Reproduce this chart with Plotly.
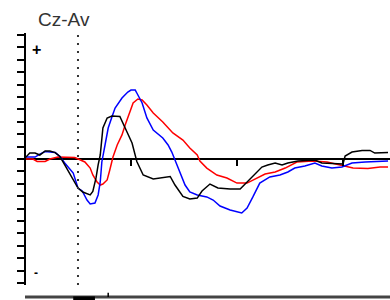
import plotly.graph_objects as go

# ---- data (time in ms, amplitude in µV) ----
t_black = [-100, -91, -81, -72, -62, -53, -43, -34, -25, -13, 0, 9, 23, 28, 34, 38, 42, 47, 55, 64,
           79, 89, 98, 102, 111, 123, 142, 158, 174, 183, 198, 211, 225, 234, 249, 264, 287, 306,
           319, 338, 347, 358, 372, 385, 396, 415, 434, 447, 460, 485, 500, 504, 517, 536, 551, 560, 585]
v_black = [0.08, 0.48, 0.48, 0.32, 0.65, 0.65, 0.52, 0.20, -0.48, -1.41, -2.34, -2.66, -2.90, -2.62,
           -1.53, -0.48, 0.32, 2.50, 3.31, 3.47, 3.43, 2.50, 1.69, 1.29, -0.20, -1.29, -1.61, -1.53,
           -1.41, -2.10, -3.02, -3.23, -3.15, -2.58, -2.02, -2.34, -2.42, -2.42, -1.85, -0.97, -0.65,
           -0.48, -0.32, -0.48, -0.32, -0.16, -0.08, -0.08, -0.32, -0.40, -0.40, 0.24, 0.56, 0.69,
           0.69, 0.48, 0.52]

t_blue = [-100, -81, -72, -62, -43, -34, -25, -9, 0, 8, 17, 23, 32, 38, 42, 45, 51, 57, 64, 70,
          83, 94, 100, 108, 111, 121, 130, 142, 160, 170, 177, 183, 192, 202, 211, 225, 243, 255,
          268, 287, 309, 319, 330, 343, 362, 381, 396, 409, 428, 447, 460, 479, 498, 517, 542, 585]
v_blue = [0.16, 0.16, 0.40, 0.60, 0.52, 0.20, -0.32, -1.13, -2.34, -2.58, -3.31, -3.63, -3.55,
          -2.90, -1.85, -0.24, 1.13, 2.50, 3.39, 4.11, 4.92, 5.40, 5.56, 5.56, 5.32, 4.52, 3.31,
          2.34, 1.69, 1.13, 0.56, -0.08, -1.05, -2.10, -2.66, -2.90, -3.06, -3.31, -3.79, -4.11,
          -4.35, -3.95, -3.06, -1.94, -1.45, -1.29, -1.05, -0.73, -0.56, -0.32, -0.56, -0.73,
          -0.65, -0.32, -0.24, -0.16]

t_red = [-100, -85, -77, -62, -53, -38, -6, 4, 13, 23, 28, 36, 42, 47, 55, 60, 66, 74, 83, 89,
         98, 104, 113, 121, 130, 142, 160, 179, 198, 211, 225, 230, 243, 262, 281, 300, 319, 334,
         353, 372, 391, 413, 443, 470, 500, 519, 547, 570, 585]
v_red = [0.0, 0.0, -0.20, -0.20, 0.0, 0.16, 0.12, -0.08, -0.24, -0.73, -1.29, -1.85, -2.10, -2.02,
         -1.69, -0.89, 0.16, 1.13, 1.94, 2.74, 3.79, 4.52, 4.84, 4.76, 4.35, 3.71, 2.98, 2.10,
         1.53, 0.89, 0.32, -0.16, -0.73, -1.29, -1.53, -1.94, -1.94, -1.61, -1.21, -1.05, -0.73,
         -0.24, -0.16, -0.24, -0.56, -0.73, -0.77, -0.65, -0.65]

y_ticks = list(range(-10, 11))
x_ticks = [100, 300, 500]
title_text = "Cz-Av"

fig = go.Figure()
for t, v, c in [(t_red, v_red, "#ff0000"), (t_blue, v_blue, "#0000ff"), (t_black, v_black, "#000000")]:
    fig.add_trace(go.Scatter(x=t, y=v, mode="lines", line=dict(color=c, width=1.5),
                             showlegend=False, hoverinfo="skip"))

# stimulus onset dotted line
fig.add_shape(type="line", xref="x", yref="paper", x0=0, x1=0, y0=0.05, y1=0.89,
              line=dict(color="#333333", width=2, dash="2px,6px"))

# bottom axis line with tick and cut-off label
fig.add_shape(type="line", xref="paper", yref="paper", x0=-1/364, x1=1, y0=0.01, y1=0.01,
              line=dict(color="#444444", width=3))
fig.add_shape(type="line", xref="x", yref="paper", x0=57, x1=57, y0=0.01, y1=0.024,
              line=dict(color="#000000", width=1.5))
fig.add_shape(type="rect", xref="x", yref="paper", x0=-9, x1=32, y0=0.0, y1=0.012,
              line=dict(width=0), fillcolor="#000000")

fig.add_annotation(text=title_text, xref="paper", yref="paper", x=0.028, y=0.935,
                   xanchor="left", yanchor="middle", showarrow=False,
                   font=dict(family="Liberation Sans", size=19, color="#333333"))
fig.add_annotation(text="<b>+</b>", xref="paper", yref="paper", x=0.03, y=0.835,
                   xanchor="center", yanchor="middle", showarrow=False,
                   font=dict(family="Liberation Sans", size=16, color="#000000"))
fig.add_annotation(text="<b>-</b>", xref="paper", yref="paper", x=0.027, y=0.09,
                   xanchor="center", yanchor="middle", showarrow=False,
                   font=dict(family="Liberation Sans", size=12, color="#000000"))

fig.update_layout(
    width=390, height=300,
    margin=dict(l=26, r=0, t=0, b=0),
    paper_bgcolor="white", plot_bgcolor="white",
    hovermode=False,
    xaxis=dict(range=[-98.1, 588.7], anchor="free", position=0.47,
               showline=False, showgrid=False, zeroline=False,
               ticks="outside", ticklen=6, tickwidth=1.5, tickcolor="#000000",
               tickvals=x_ticks, showticklabels=False),
    yaxis=dict(range=[-10.16, 10.16], domain=[0.05, 0.89],
               showline=True, linecolor="#000000", linewidth=2,
               showgrid=False, zeroline=True, zerolinecolor="#000000", zerolinewidth=2,
               ticks="outside", ticklen=7, tickwidth=2, tickcolor="#000000",
               tickvals=y_ticks, showticklabels=False),
)

fig.write_html("out.html", config={"displayModeBar": False},
               post_script="document.body.style.margin='0px';document.body.style.overflow='hidden';")
